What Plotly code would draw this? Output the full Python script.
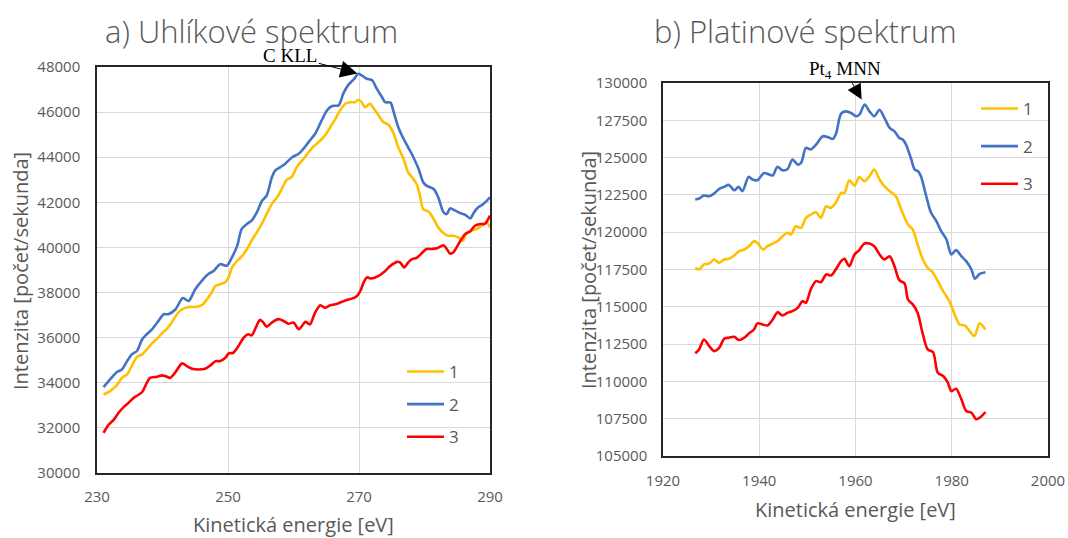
import plotly.graph_objects as go

# ---------------------------------------------------------------
# a) Carbon spectrum (C KLL region) - kinetic energy [eV] and counts/s
# ---------------------------------------------------------------
c1_energy = [231.0, 232.0, 233.0, 233.8, 234.6, 235.3, 236.1, 236.9, 237.6, 238.4,
             239.2, 239.9, 240.7, 241.4, 242.2, 243.0, 244.0, 245.0, 246.0, 246.8,
             247.5, 248.1, 248.8, 249.6, 250.1, 250.6, 251.4, 252.1, 252.9, 253.6,
             254.4, 255.2, 255.9, 256.7, 257.5, 258.2, 259.0, 259.7, 260.5, 261.3,
             262.3, 263.1, 264.1, 264.8, 265.6, 266.4, 267.1, 267.9, 268.6, 269.4,
             269.9, 270.4, 270.9, 271.7, 272.2, 273.0, 273.7, 274.5, 275.3, 276.0,
             276.8, 277.5, 278.1, 278.8, 279.3, 279.8, 280.6, 281.4, 282.1, 282.9,
             283.6, 284.4, 285.2, 285.9, 286.4, 287.2, 288.0, 288.7, 289.5, 290.0]
c1_counts = [33480, 33630, 33880, 34220, 34370, 34740, 35150, 35260, 35480, 35750,
             35960, 36190, 36400, 36670, 37040, 37260, 37360, 37360, 37440, 37700,
             38000, 38300, 38370, 38470, 38670, 39110, 39410, 39600, 39930, 40300,
             40670, 41070, 41480, 41930, 42220, 42590, 43010, 43110, 43560, 43850,
             44220, 44490, 44740, 44960, 45330, 45700, 46070, 46370, 46440, 46440,
             46550, 46440, 46220, 46370, 46180, 45850, 45560, 45440, 45040, 44440,
             43930, 43330, 43110, 42810, 42300, 41700, 41590, 41260, 40890, 40640,
             40520, 40520, 40440, 40300, 40640, 40740, 40820, 40960, 41110, 40890]

c2_energy = [231.0, 232.0, 233.0, 233.8, 234.6, 235.3, 236.1, 236.9, 237.6, 238.4,
             239.2, 240.2, 240.9, 242.0, 243.1, 244.0, 245.0, 246.0, 247.0, 247.8,
             248.8, 249.8, 250.6, 251.4, 252.1, 252.9, 253.6, 254.4, 255.2, 255.9,
             256.7, 257.2, 258.0, 258.7, 259.8, 260.8, 261.5, 262.3, 263.3, 264.3,
             265.1, 265.9, 266.9, 267.6, 268.4, 269.2, 269.9, 270.4, 271.2, 272.0,
             272.7, 273.5, 274.0, 274.8, 275.3, 276.0, 276.8, 277.5, 278.3, 279.1,
             279.8, 280.3, 281.4, 282.1, 282.9, 283.4, 283.9, 284.7, 285.4, 286.2,
             287.0, 287.5, 288.2, 289.0, 290.0]
c2_counts = [33810, 34150, 34470, 34590, 34960, 35260, 35410, 35930, 36150, 36370,
             36670, 37040, 37040, 37260, 37760, 37630, 38150, 38520, 38820, 38960,
             39260, 39190, 39560, 40070, 40820, 41040, 41190, 41560, 42070, 42300,
             43110, 43410, 43560, 43700, 44000, 44150, 44370, 44670, 45040, 45630,
             46070, 46270, 46300, 46820, 47220, 47450, 47700, 47630, 47480, 47410,
             47040, 46670, 46440, 46420, 46000, 45330, 44820, 44440, 44000, 43480,
             42890, 42740, 42590, 42220, 41560, 41480, 41730, 41630, 41530, 41450,
             41290, 41530, 41780, 41930, 42220]

c3_energy = [231.0, 231.8, 232.5, 233.3, 234.1, 234.8, 235.6, 236.4, 236.9, 237.6,
             238.1, 239.2, 239.9, 240.4, 241.2, 241.9, 243.0, 243.7, 244.5, 245.5,
             246.5, 247.3, 248.1, 248.8, 249.6, 250.1, 250.8, 251.6, 252.4, 253.1,
             253.6, 254.4, 254.9, 255.4, 255.9, 256.7, 257.7, 258.5, 259.2, 260.0,
             260.8, 261.3, 261.8, 262.5, 263.3, 264.1, 264.8, 265.6, 266.4, 267.4,
             268.1, 268.9, 269.7, 270.2, 270.7, 271.2, 271.9, 273.0, 274.0, 274.7,
             275.8, 276.3, 276.9, 277.5, 278.1, 278.8, 279.6, 280.3, 281.1, 281.9,
             282.9, 283.4, 283.9, 284.4, 284.9, 285.4, 286.2, 286.9, 287.7, 288.5,
             289.2, 290.0]
c3_counts = [31780, 32150, 32340, 32670, 32930, 33110, 33330, 33480, 33590, 34000,
             34220, 34270, 34330, 34300, 34220, 34440, 34860, 34740, 34620, 34590,
             34620, 34770, 34960, 34960, 35110, 35300, 35330, 35630, 36000, 36150,
             36100, 36550, 36790, 36670, 36490, 36670, 36820, 36740, 36620, 36670,
             36370, 36520, 36700, 36590, 37110, 37440, 37330, 37440, 37480, 37590,
             37670, 37730, 37850, 38070, 38440, 38670, 38620, 38740, 38960, 39160,
             39360, 39330, 39110, 39330, 39480, 39540, 39750, 39930, 39930, 39960,
             40100, 39930, 39730, 39780, 40000, 40250, 40590, 40700, 40960, 41040,
             41040, 41410]

# ---------------------------------------------------------------
# b) Platinum spectrum (Pt MNN region)
# ---------------------------------------------------------------
p1_energy = [1926.7, 1927.5, 1928.5, 1929.6, 1930.6, 1931.7, 1932.7, 1933.7, 1934.8, 1935.8,
             1936.9, 1937.9, 1938.9, 1939.6, 1940.8, 1941.7, 1942.8, 1943.8, 1944.8, 1945.9,
             1946.6, 1947.6, 1948.7, 1949.7, 1950.7, 1951.8, 1952.8, 1953.9, 1954.9, 1955.9,
             1957.0, 1957.7, 1958.7, 1959.8, 1960.8, 1961.8, 1962.9, 1963.9, 1965.0, 1966.0,
             1967.1, 1968.4, 1969.5, 1970.9, 1971.9, 1972.9, 1974.0, 1975.0, 1976.1, 1977.1,
             1978.2, 1979.5, 1980.6, 1981.6, 1982.7, 1983.7, 1984.7, 1985.8, 1987.0]
p1_counts = [117610, 117500, 117840, 117900, 118170, 117950, 118170, 118220, 118440, 118730,
             118840, 119060, 119400, 119290, 118840, 119060, 119240, 119400, 119730, 119960,
             119840, 120400, 120290, 120960, 121180, 121340, 120960, 121740, 121630, 121970,
             122630, 122630, 123480, 123130, 123710, 123420, 123750, 124200, 123530, 123080,
             122750, 122410, 121520, 120510, 120180, 119180, 118170, 117610, 117280, 116720,
             116050, 115380, 114490, 113820, 113750, 113370, 113040, 113890, 113480]

p2_energy = [1926.7, 1927.5, 1928.5, 1929.6, 1930.6, 1931.7, 1932.7, 1933.7, 1934.8, 1935.7,
             1936.5, 1937.8, 1938.6, 1939.6, 1941.0, 1942.1, 1942.8, 1943.8, 1944.8, 1945.9,
             1946.9, 1948.0, 1948.7, 1949.7, 1950.7, 1951.8, 1953.2, 1954.2, 1955.3, 1956.0,
             1957.0, 1958.0, 1959.1, 1960.1, 1960.8, 1961.9, 1962.9, 1963.9, 1965.0, 1966.0,
             1967.1, 1968.1, 1969.1, 1969.8, 1970.5, 1971.6, 1972.3, 1973.0, 1973.6, 1974.7,
             1975.7, 1976.8, 1977.8, 1978.9, 1979.9, 1980.9, 1982.0, 1983.0, 1984.1, 1984.8,
             1985.8, 1987.0]
p2_counts = [122190, 122260, 122460, 122410, 122590, 122900, 123040, 123170, 122810, 123040,
             122750, 123710, 123530, 123480, 123970, 123860, 123800, 124380, 124150, 124240,
             124870, 124530, 124640, 125650, 125540, 125870, 126430, 126380, 126250, 126650,
             127950, 128100, 127990, 127770, 127880, 128550, 128100, 127770, 128210, 127660,
             126990, 126760, 126320, 126210, 125870, 124870, 124200, 124090, 123750, 122410,
             121300, 120740, 120070, 119510, 118510, 118800, 118390, 118060, 117500, 116880,
             117210, 117320]

p3_energy = [1926.7, 1927.5, 1928.5, 1929.6, 1930.6, 1931.7, 1932.7, 1933.7, 1934.8, 1935.8,
             1936.9, 1937.9, 1938.9, 1939.6, 1940.7, 1941.7, 1942.8, 1943.8, 1944.8, 1945.9,
             1946.9, 1948.0, 1949.0, 1949.7, 1950.7, 1951.8, 1952.8, 1953.9, 1954.9, 1955.9,
             1957.0, 1957.7, 1958.7, 1959.8, 1960.8, 1961.8, 1962.9, 1963.9, 1965.0, 1966.0,
             1967.1, 1968.1, 1969.1, 1970.2, 1970.9, 1971.9, 1972.9, 1974.0, 1975.0, 1976.1,
             1977.1, 1978.2, 1979.2, 1979.9, 1980.9, 1982.0, 1983.0, 1984.1, 1985.1, 1986.1,
             1987.0]
p3_counts = [111880, 112140, 112810, 112370, 112030, 112260, 112860, 112930, 112990, 112770,
             112930, 113220, 113480, 113890, 113820, 113750, 114150, 114640, 114420, 114600,
             114710, 114930, 115380, 115270, 116160, 116720, 116650, 117170, 117100, 117500,
             118060, 118220, 117720, 118510, 118800, 119240, 119240, 119060, 118510, 118170,
             118390, 117720, 116790, 116560, 115490, 115160, 114600, 113150, 112140, 111970,
             110580, 110360, 109910, 109350, 109510, 108800, 108020, 107900, 107460, 107640,
             107950]

series_names = ["1", "2", "3"]
series_colors = ["#FFC000", "#4472C4", "#FF0000"]

W, H = 1068, 538


def px_x(p):
    return p / W


def px_y(p):
    return 1 - p / H


GRAY = "#595959"
SANS = "Open Sans, Lato, sans-serif"
SERIF = "Liberation Serif, Times New Roman, serif"

fig = go.Figure()

carbon = [(c1_energy, c1_counts), (c2_energy, c2_counts), (c3_energy, c3_counts)]
platinum = [(p1_energy, p1_counts), (p2_energy, p2_counts), (p3_energy, p3_counts)]

for i, (xs, ys) in enumerate(carbon):
    fig.add_trace(go.Scatter(
        x=xs, y=ys, mode="lines", name=series_names[i],
        line=dict(color=series_colors[i], width=2.6, shape="spline", smoothing=0.8),
        xaxis="x", yaxis="y", legend="legend", legendgroup="c" + series_names[i],
    ))

for i, (xs, ys) in enumerate(platinum):
    fig.add_trace(go.Scatter(
        x=xs, y=ys, mode="lines", name=series_names[i],
        line=dict(color=series_colors[i], width=2.6, shape="spline", smoothing=0.8),
        xaxis="x2", yaxis="y2", legend="legend2", legendgroup="p" + series_names[i],
    ))

axis_common = dict(
    showgrid=True, gridcolor="#D9D9D9", gridwidth=1,
    zeroline=False, showline=True, mirror=True,
    linecolor="#262626", linewidth=1.5, ticks="",
    tickfont=dict(family=SANS, size=15, color=GRAY),
    tickformat="d", fixedrange=True, automargin=False,
)

legend_common = dict(
    xanchor="left", yanchor="top", xref="paper", yref="paper",
    font=dict(family=SANS, size=17, color=GRAY),
    bgcolor="rgba(0,0,0,0)", traceorder="grouped", itemwidth=37,
)

fig.update_layout(
    width=W, height=H,
    margin=dict(l=0, r=0, t=0, b=0, pad=0, autoexpand=False),
    paper_bgcolor="white", plot_bgcolor="white",
    xaxis=dict(domain=[px_x(97), px_x(490)], range=[230, 290], tick0=230, dtick=20,
               anchor="y", ticklabelstandoff=9, **axis_common),
    yaxis=dict(domain=[px_y(473), px_y(67)], range=[30000, 48000], dtick=2000,
               anchor="x", ticklabelstandoff=12, **axis_common),
    xaxis2=dict(domain=[px_x(663), px_x(1048)], range=[1920, 2000], tick0=1920, dtick=20,
                anchor="y2", ticklabelstandoff=10, **axis_common),
    yaxis2=dict(domain=[px_y(456), px_y(83)], range=[105000, 130000], dtick=2500,
                anchor="x2", ticklabelstandoff=11, **axis_common),
    legend=dict(x=px_x(402), y=px_y(354), tracegroupgap=7.5, **legend_common),
    legend2=dict(x=px_x(976), y=px_y(91), tracegroupgap=12.5, **legend_common),
    showlegend=True,
)

# Panel titles
for text, cx in (("a) Uhlíkové spektrum", 251), ("b) Platinové spektrum", 805)):
    fig.add_annotation(text=text, x=px_x(cx), y=px_y(31),
                       xref="paper", yref="paper", xanchor="center", yanchor="middle",
                       showarrow=False,
                       font=dict(family=SANS, size=31, color=GRAY, weight=300))

# Axis titles
for cx, cy in ((293, 524), (855, 509)):
    fig.add_annotation(text="Kinetická energie [eV]", x=px_x(cx), y=px_y(cy),
                       xref="paper", yref="paper", xanchor="center", yanchor="middle",
                       showarrow=False,
                       font=dict(family=SANS, size=20, color=GRAY))
for cx, cy in ((20, 271), (588, 270)):
    fig.add_annotation(text="Intenzita [počet/sekunda]", x=px_x(cx), y=px_y(cy),
                       xref="paper", yref="paper", xanchor="center", yanchor="middle",
                       showarrow=False, textangle=-90,
                       font=dict(family=SANS, size=20, color=GRAY))

# Peak labels with arrows pointing to the series-2 maxima
ci = c2_counts.index(max(c2_counts))
fig.add_annotation(text="C KLL", x=c2_energy[ci], y=c2_counts[ci], xref="x", yref="y",
                   ax=-68, ay=-18, showarrow=True, arrowhead=2, arrowsize=3.4,
                   arrowwidth=1, arrowcolor="black", standoff=1,
                   font=dict(family=SERIF, size=19, color="black"))
pi = p2_counts.index(max(p2_counts))
fig.add_annotation(text="Pt<sub>4</sub> MNN", x=p2_energy[pi], y=p2_counts[pi],
                   xref="x2", yref="y2",
                   ax=-20, ay=-35, showarrow=True, arrowhead=2, arrowsize=3,
                   arrowwidth=1, arrowcolor="black", standoff=6,
                   font=dict(family=SERIF, size=19, color="black"))

fig.write_html("out.html")
